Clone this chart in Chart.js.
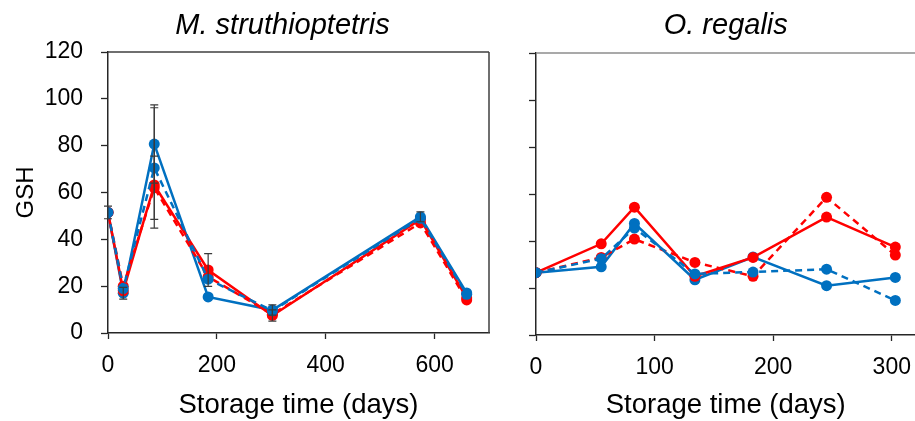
<!DOCTYPE html>
<html>
<head>
<meta charset="utf-8">
<script src="https://cdn.jsdelivr.net/npm/chart.js@4.4.1/dist/chart.umd.min.js"></script>
<style>
  html, body { margin: 0; padding: 0; background: #fff; overflow: hidden; }
  #wrap { position: relative; width: 915px; height: 421px; overflow: hidden; }
  canvas { position: absolute; top: 0; }
</style>
</head>
<body>
<div id="wrap">
  <canvas id="left" width="500" height="421" style="left:0"></canvas>
  <canvas id="right" width="421" height="421" style="left:500px"></canvas>
</div>
<script>
// ---- M. struthioptetris ----
const mDays = [0, 28, 85, 184, 302, 574, 659];
const mRedSolid   = [51.5, 18, 63.2, 26.9, 7.5, 48.5, 15.0];
const mRedDashed  = [51.5, 20, 62.0, 24.0, 8.0, 47.0, 14.1];
const mBlueSolid  = [51.5, 17, 80.7, 15.4, 9.8, 49.6, 17.1];
const mBlueDashed = [51.5, 19, 70.5, 23.0, 9.5, 49.0, 16.5];
// standard errors (null = no bar drawn)
const mRedSolidErr   = [null, null, null, 7.0, 2.4, null, null];
const mRedDashedErr  = [null, null, 13.5, null, null, null, null];
const mBlueSolidErr  = [2.7, 2.5, 16.7, null, 2.2, 2.1, null];
const mBlueDashedErr = [null, null, 25.7, null, null, null, null];

// ---- O. regalis ----
const oDays = [0, 55, 83, 134, 183, 245, 303];
const oRedSolid   = [26.5, 38.8, 54.4, 25.0, 33.0, 50.2, 37.4];
const oRedDashed  = [26.5, 33.0, 40.8, 30.9, 25.0, 58.6, 34.0];
const oBlueSolid  = [26.5, 29.0, 47.5, 23.5, 33.2, 21.0, 24.5];
const oBlueDashed = [26.5, 32.5, 45.5, 26.0, 26.8, 28.0, 14.7];

const yTicks = [0, 20, 40, 60, 80, 100, 120];
const xLabel = 'Storage time (days)';
const yLabel = 'GSH';

const RED = '#ff0000';
const BLUE = '#0070c0';
const AXIS = '#262626';
const FONT = "'Liberation Sans', Arial, sans-serif";

function series(days, values, color, dashed, errors) {
  return {
    data: days.map((d, i) => ({ x: d, y: values[i] })),
    borderColor: color,
    backgroundColor: color,
    borderWidth: 2.5,
    borderDash: dashed ? [7, 5] : [],
    pointRadius: 5.5,
    pointHoverRadius: 5.5,
    pointBorderWidth: 0,
    pointBackgroundColor: color,
    tension: 0,
    fill: false,
    errors: errors || null
  };
}

// vertical error bars with caps, positioned through the chart scales
const errorBars = {
  id: 'errorBars',
  afterDatasetsDraw(chart) {
    const ctx = chart.ctx;
    const xs = chart.scales.x, ys = chart.scales.y;
    ctx.save();
    ctx.strokeStyle = '#3a3a3a';
    ctx.lineWidth = 1.2;
    chart.data.datasets.forEach(ds => {
      if (!ds.errors) return;
      ds.data.forEach((p, i) => {
        const e = ds.errors[i];
        if (e == null) return;
        const x = xs.getPixelForValue(p.x);
        const y1 = ys.getPixelForValue(p.y + e);
        const y2 = ys.getPixelForValue(p.y - e);
        ctx.beginPath();
        ctx.moveTo(x, y1); ctx.lineTo(x, y2);
        ctx.moveTo(x - 4, y1); ctx.lineTo(x + 4, y1);
        ctx.moveTo(x - 4, y2); ctx.lineTo(x + 4, y2);
        ctx.stroke();
      });
    });
    ctx.restore();
  }
};

// top / right frame lines around the plot area
const frame = {
  id: 'frame',
  afterDraw(chart, args, opts) {
    const { ctx, chartArea: a } = chart;
    ctx.save();
    ctx.strokeStyle = opts.color;
    ctx.lineWidth = 1.5;
    ctx.beginPath();
    ctx.moveTo(a.left, a.top); ctx.lineTo(a.right, a.top);
    if (opts.right) { ctx.moveTo(a.right, a.top); ctx.lineTo(a.right, a.bottom); }
    ctx.stroke();
    ctx.restore();
  }
};

// panel heading, centred above the plot area with an optional shift
const panelTitle = {
  id: 'panelTitle',
  afterDraw(chart, args, opts) {
    const { ctx, chartArea: a } = chart;
    ctx.save();
    ctx.font = "italic 29px " + FONT;
    ctx.fillStyle = '#000';
    ctx.textAlign = 'center';
    ctx.textBaseline = 'alphabetic';
    ctx.fillText(opts.text, (a.left + a.right) / 2 + opts.dx, opts.baseline);
    ctx.restore();
  }
};

function makeChart(id, cfg) {
  return new Chart(document.getElementById(id), {
    type: 'line',
    data: { datasets: cfg.datasets },
    options: {
      responsive: false,
      animation: false,
      devicePixelRatio: 1,
      layout: { padding: { left: 0, right: cfg.padRight, top: cfg.padTop, bottom: 0 } },
      plugins: {
        legend: { display: false },
        tooltip: { enabled: false },
        title: { display: false },
        panelTitle: { text: cfg.title, dx: cfg.titleDx, baseline: 34 },
        frame: { color: cfg.frameColor, right: cfg.frameRight }
      },
      scales: {
        x: {
          type: 'linear',
          min: 0,
          max: cfg.xMax,
          afterFit: s => { s.height = cfg.xHeight; s.paddingLeft = 0; s.paddingRight = 0; },
          ticks: {
            stepSize: cfg.xStep,
            includeBounds: false,
            color: '#000',
            padding: 13,
            font: { family: FONT, size: 23 },
            maxRotation: 0
          },
          grid: { drawOnChartArea: false, drawTicks: true, tickLength: 6, tickColor: AXIS, tickWidth: 1.3 },
          border: { display: true, color: AXIS, width: 1.5 },
          title: {
            display: true,
            text: xLabel,
            color: '#000',
            font: { family: FONT, size: 27.5, lineHeight: 1.1 },
            padding: { top: 0, bottom: 0 }
          }
        },
        y: {
          type: 'linear',
          min: 0,
          max: 120,
          afterFit: s => { s.width = cfg.yWidth; s.paddingTop = 0; s.paddingBottom = 0; },
          afterBuildTicks: s => { s.ticks = yTicks.map(v => ({ value: v })); },
          ticks: {
            display: cfg.yLabels,
            color: '#000',
            padding: 18,
            font: { family: FONT, size: 23 }
          },
          grid: { drawOnChartArea: false, drawTicks: true, tickLength: 7, tickColor: AXIS, tickWidth: 1.3 },
          border: { display: true, color: AXIS, width: 1.5 },
          title: {
            display: cfg.yLabels,
            text: yLabel,
            color: '#000',
            font: { family: FONT, size: 24, lineHeight: 1.2 },
            padding: { top: 12, bottom: 0 }
          }
        }
      }
    },
    plugins: [errorBars, frame, panelTitle]
  });
}

makeChart('left', {
  title: 'M. struthioptetris', titleDx: -16,
  padTop: 52, padRight: 11,
  xMax: 700, xStep: 200, xHeight: 88, yWidth: 108, yLabels: true,
  frameColor: '#404040', frameRight: true,
  datasets: [
    series(mDays, mBlueDashed, BLUE, true, mBlueDashedErr),
    series(mDays, mRedDashed, RED, true, mRedDashedErr),
    series(mDays, mRedSolid, RED, false, mRedSolidErr),
    series(mDays, mBlueSolid, BLUE, false, mBlueSolidErr)
  ]
});

makeChart('right', {
  title: 'O. regalis', titleDx: 0,
  padTop: 53, padRight: 0,
  xMax: 320, xStep: 100, xHeight: 86, yWidth: 36, yLabels: false,
  frameColor: '#8c8c8c', frameRight: false,
  datasets: [
    series(oDays, oBlueDashed, BLUE, true),
    series(oDays, oRedDashed, RED, true),
    series(oDays, oRedSolid, RED, false),
    series(oDays, oBlueSolid, BLUE, false)
  ]
});
</script>
</body>
</html>
